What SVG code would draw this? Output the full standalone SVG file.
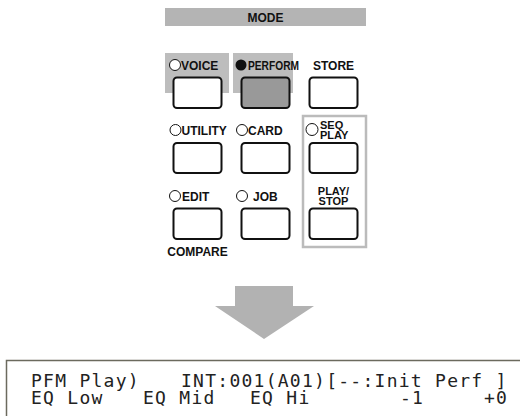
<svg xmlns="http://www.w3.org/2000/svg" width="520" height="416" viewBox="0 0 520 416">
<style>
.lbl{font-family:"Liberation Sans",Arial,sans-serif;font-weight:bold;font-size:12px;fill:#111}
.sm{font-size:11px}
.btn{fill:#fff;stroke:#111;stroke-width:2}
.led{fill:#fff;stroke:#111;stroke-width:1}
.lcd{font-family:"DejaVu Sans Mono",monospace;font-size:18px;fill:#222;letter-spacing:1.26px}
</style>
<rect width="520" height="416" fill="#fff"/>
<g id="mode">
<rect x="165" y="8" width="201" height="18" fill="#b4b4b4"/>
<text class="lbl" x="265.5" y="22" text-anchor="middle" font-size="14">MODE</text>
</g>
<g id="bg">
<rect x="165" y="53" width="64" height="40" fill="#bdbdbd"/>
<rect x="233" y="53" width="60" height="40" fill="#bdbdbd"/>
<rect x="303" y="116" width="63" height="131" fill="none" stroke="#bbb" stroke-width="2.5"/>
</g>
<g id="voice">
<circle class="led" cx="175" cy="65" r="5.5"/>
<text class="lbl" x="181" y="69.5">VOICE</text>
<rect class="btn" x="173.5" y="77.5" width="48" height="30.5" rx="3.5"/>
</g>
<g id="perform">
<circle cx="241" cy="65" r="5.5" fill="#111"/>
<text class="lbl" x="248" y="69.5" textLength="51" lengthAdjust="spacingAndGlyphs">PERFORM</text>
<rect class="btn" x="241.5" y="77.5" width="48" height="30.5" rx="3.5" style="fill:#999"/>
</g>
<g id="store">
<text class="lbl" x="333.5" y="69.5" text-anchor="middle">STORE</text>
<rect class="btn" x="309.5" y="77.5" width="48" height="30.5" rx="3.5"/>
</g>
<g id="utility">
<circle class="led" cx="175.5" cy="130" r="5.5"/>
<text class="lbl" x="181.5" y="134.5">UTILITY</text>
<rect class="btn" x="173.5" y="143" width="48" height="30" rx="3.5"/>
</g>
<g id="card">
<circle class="led" cx="242" cy="130" r="5.5"/>
<text class="lbl" x="248" y="134.5">CARD</text>
<rect class="btn" x="241.5" y="143" width="48" height="30" rx="3.5"/>
</g>
<g id="seqplay">
<circle class="led" cx="312" cy="129.5" r="6"/>
<text class="lbl sm" x="320" y="129">SEQ</text>
<text class="lbl sm" x="320" y="139">PLAY</text>
<rect class="btn" x="309.5" y="143" width="48" height="30" rx="3.5"/>
</g>
<g id="edit">
<circle class="led" cx="175" cy="196" r="5.5"/>
<text class="lbl" x="182" y="201">EDIT</text>
<rect class="btn" x="173.5" y="208.5" width="48" height="30.5" rx="3.5"/>
<text class="lbl" x="197.5" y="256" text-anchor="middle" font-size="10">COMPARE</text>
</g>
<g id="job">
<circle class="led" cx="242" cy="196" r="5.5"/>
<text class="lbl" x="253" y="201">JOB</text>
<rect class="btn" x="241.5" y="208.5" width="48" height="30.5" rx="3.5"/>
</g>
<g id="playstop">
<text class="lbl sm" x="333.5" y="195" text-anchor="middle">PLAY/</text>
<text class="lbl sm" x="333.5" y="205" text-anchor="middle">STOP</text>
<rect class="btn" x="309.5" y="208.5" width="48" height="30.5" rx="3.5"/>
</g>
<g id="connectors">
<polygon points="235,286 293,286 293,306 314,306 264,339 215,306 235,306" fill="#b2b2b2"/>
</g>
<g id="lcd">
<path d="M6.5,416 V360.5 H520" fill="none" stroke="#6b6a5e" stroke-width="1.5"/>
<text class="lcd" y="386.5" xml:space="preserve"><tspan x="31">PFM Play)</tspan><tspan x="181">INT:001(A01)[--:Init Perf ]</tspan></text>
<text class="lcd" y="404" xml:space="preserve"><tspan x="31">EQ Low</tspan><tspan x="143">EQ Mid</tspan><tspan x="250">EQ Hi</tspan><tspan x="400">-1</tspan><tspan x="484">+0</tspan></text>
</g>
</svg>
